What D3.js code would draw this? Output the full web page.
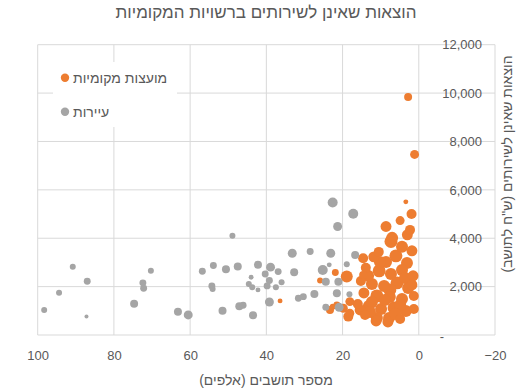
<!DOCTYPE html>
<html><head><meta charset="utf-8">
<script src="https://cdn.jsdelivr.net/npm/d3@7/dist/d3.min.js"></script>
<style>
html,body{margin:0;padding:0;background:#fff;}
svg{display:block;font-family:"Liberation Sans","DejaVu Sans",sans-serif;}
</style></head>
<body><svg id="c" width="522" height="389"></svg>
<script>
const title = "הוצאות שאינן לשירותים ברשויות המקומיות";
const xTitle = "מספר תושבים (אלפים)";
const yTitle = "הוצאות שאינן לשירותים (ש\"ח לתושב)";
const seriesNames = ["מועצות מקומיות", "עיירות"];
const seriesColors = ["#ED7D31", "#A5A5A5"];
const xTicks = [100, 80, 60, 40, 20, 0, -20];
const yTicks = [0, 2000, 4000, 6000, 8000, 10000, 12000];

// local councils (orange): population (thousands), expenditure, bubble size
const councilX = [2.8,1.1,3.4,1.9,4.9,8.6,2.3,3.0,7.3,7.0,10.5,14.6,
  4.4,1.8,11.8,8.6,6.0,3.1,13.9,10.4,7.3,4.4,1.5,15.2,12.3,9.1,5.7,2.8,
  14.4,11.0,7.6,4.4,1.3,16.0,13.1,9.9,6.5,3.4,14.1,11.0,7.8,4.9,1.3,
  10.2,13.3,3.6,7.6,12.3,4.9,8.9,15.4,6.2,1.8,12.8,8.1,11.2,
  18.9,21.9,25.9,36.4,18.1,19.8,18.1,18.5,21.5,22.6,23.3,14.6];
const councilY = [9840,7465,5505,5000,4730,4485,4345,4140,3865,4015,3435,3175,
  3645,3480,3230,3020,3270,2980,2775,2650,2525,2690,2445,2235,2110,2030,2155,1945,
  1740,1615,1575,1490,1615,1285,1200,1075,1120,995,830,705,705,660,1075,
  3020,2445,2360,1865,1365,1240,1450,1035,870,2070,950,540,580,
  2415,2580,2250,1410,1380,1105,900,760,1240,1170,1035,2485];
const councilS = [16,20,6,25,20,30,25,30,42,36,25,25,
  36,30,30,36,42,36,25,42,36,36,30,25,36,36,42,36,
  30,42,36,36,25,25,36,36,42,36,25,36,36,25,25,
  36,36,36,42,36,36,36,30,36,30,36,30,30,
  36,12,9,6,20,20,20,25,12,9,16,16];

// towns (gray)
const townX = [98.3,94.4,90.8,87.0,87.2,74.7,72.4,72.2,70.3,63.2,60.5,56.8,53.9,54.3,54.1,50.6,48.9,47.5,51.5,47.1,46.1,43.5,44.0,44.6,43.7,42.2,42.2,38.9,40.3,39.2,39.8,37.5,39.2,36.9,22.6,17.2,21.3,33.2,28.5,23.1,16.7,23.5,25.2,32.7,36.0,24.4,18.9,21.1,21.5,27.4,30.3,31.6,18.2,24.4,20.9];
const townY = [1035,1750,2825,2225,760,1295,2155,1935,2660,965,830,2635,2870,2030,1905,2720,4100,2830,1005,1190,1230,815,2390,2110,1975,2900,1865,2805,2525,2250,2030,1975,1365,2620,5475,5010,4485,3380,3450,3380,3310,2900,2690,2595,2180,2205,2925,2205,1725,1695,1585,1520,1685,1145,1145];
const townS = [9,9,9,12,4,16,12,12,9,16,20,12,12,12,9,16,9,16,16,16,12,16,6,9,9,16,6,20,12,12,12,9,20,12,25,25,20,20,12,20,16,6,25,16,9,16,9,16,16,16,12,12,9,12,20];

const svg = d3.select("#c");
const L = 37.7, R = 495, T = 44.7, B = 335;
const x = d3.scaleLinear().domain([100, -20]).range([L, R]);
const y = d3.scaleLinear().domain([0, 12000]).range([B, T]);
const r = d3.scaleSqrt().domain([0, 36]).range([0, 6]);
const txt = "#595959", grid = "#d9d9d9";

// gridlines
svg.append("g").selectAll("line").data(xTicks).join("line")
  .attr("x1", d => x(d)).attr("x2", d => x(d)).attr("y1", T).attr("y2", B)
  .attr("stroke", grid).attr("stroke-width", 1);
svg.append("g").selectAll("line").data(yTicks).join("line")
  .attr("x1", L).attr("x2", R).attr("y1", d => y(d)).attr("y2", d => y(d))
  .attr("stroke", grid).attr("stroke-width", 1);

// x axis labels
const xAxis = d3.axisBottom(x).tickValues(xTicks).tickSize(0).tickPadding(0).tickFormat(d3.format("d"));
const gx = svg.append("g").attr("transform", `translate(0,${B + 14})`).call(xAxis);
gx.select(".domain").remove();
gx.selectAll("text").attr("fill", txt).attr("font-size", 13).attr("dy", "0.35em").attr("y", 6);

// y axis labels (right)
const yAxis = d3.axisRight(y).tickValues(yTicks).tickSize(0).tickPadding(0)
  .tickFormat(d => d === 0 ? "-" : d3.format(",")(d));
const gy = svg.append("g").attr("transform", `translate(482,0)`).call(yAxis);
gy.select(".domain").remove();
gy.selectAll("text").attr("fill", txt).attr("font-size", 13).attr("text-anchor", "end").attr("x", 0);
gy.selectAll(".tick").filter(d => d === 0).select("text").attr("x", -38).attr("dy", "0.45em");

// bubbles
function drawSeries(X, Y, S, color) {
  const data = X.map((v, i) => ({x: v, y: Y[i], s: S[i]})).sort((a, b) => b.s - a.s);
  svg.append("g").selectAll("circle").data(data).join("circle")
    .attr("cx", d => x(d.x)).attr("cy", d => y(d.y)).attr("r", d => r(d.s))
    .attr("fill", color);
}
drawSeries(councilX, councilY, councilS, seriesColors[0]);
drawSeries(townX, townY, townS, seriesColors[1]);

// legend
const lg = svg.append("g");
lg.append("rect").attr("x", 53).attr("y", 62).attr("width", 124).attr("height", 65).attr("fill", "#fff");
seriesNames.forEach((n, i) => {
  const cy = 77.7 + i * 34;
  lg.append("circle").attr("cx", 65).attr("cy", cy).attr("r", 4.2).attr("fill", seriesColors[i]);
  lg.append("text").attr("x", 73).attr("y", cy).attr("dy", "0.35em").attr("font-size", 14)
    .attr("fill", txt).text(n);
});

// titles
svg.append("text").attr("x", 266).attr("y", 12).attr("dy", "0.35em").attr("text-anchor", "middle")
  .attr("font-size", 17).attr("fill", txt).text(title);
svg.append("text").attr("x", 266).attr("y", 380).attr("dy", "0.35em").attr("text-anchor", "middle")
  .attr("font-size", 14).attr("fill", txt).text(xTitle);
svg.append("text").attr("transform", "translate(507,164) rotate(-90)").attr("dy", "0.35em")
  .attr("text-anchor", "middle").attr("font-size", 14).attr("fill", txt).text(yTitle);
</script></body></html>
